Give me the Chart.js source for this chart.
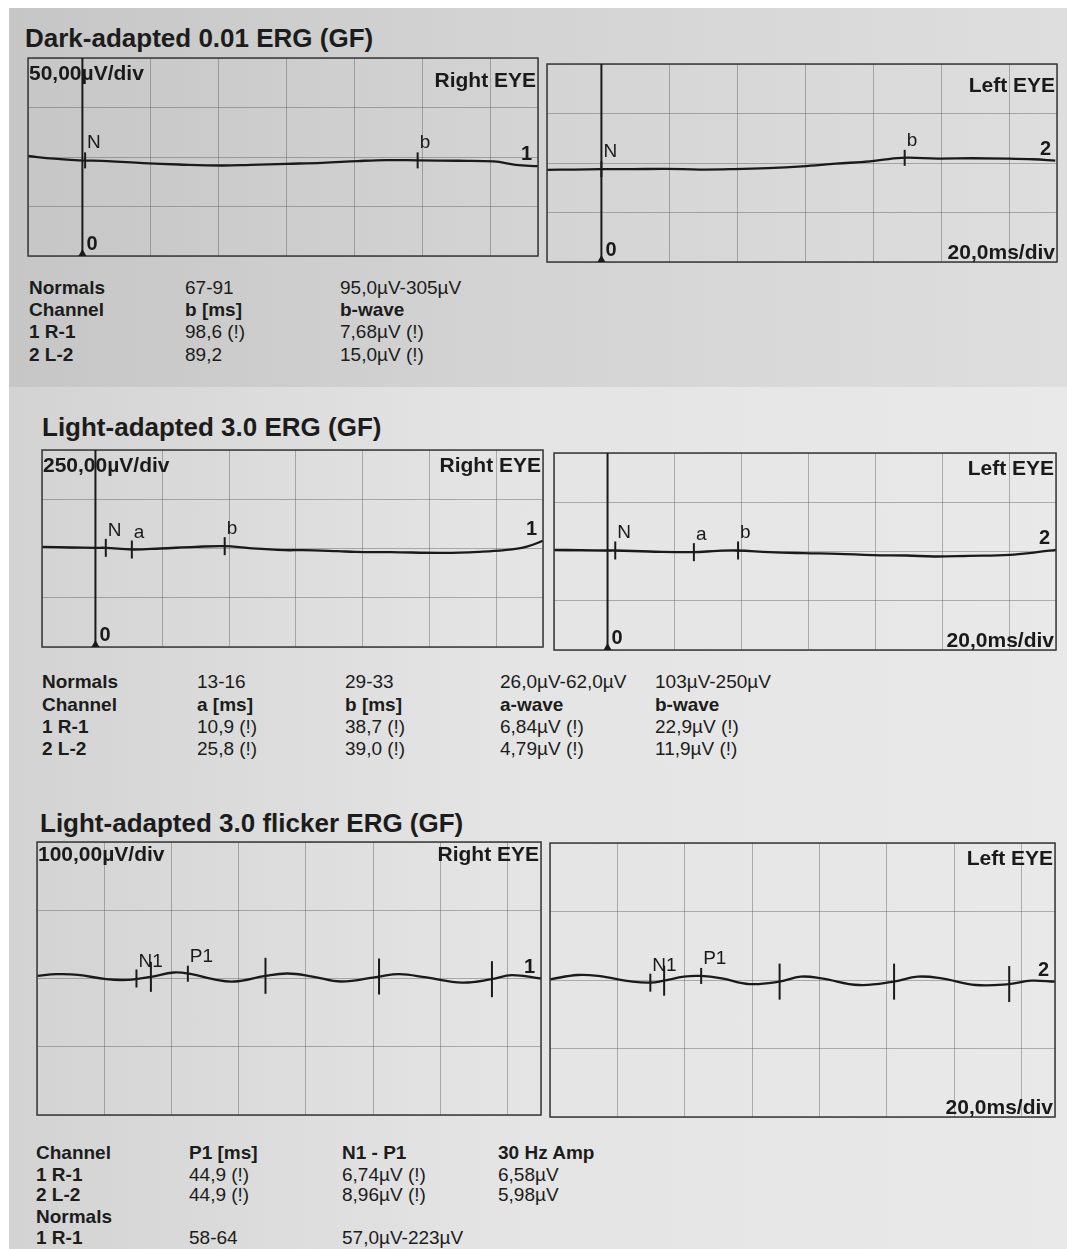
<!DOCTYPE html>
<html>
<head>
<meta charset="utf-8">
<script src="https://cdn.jsdelivr.net/npm/chart.js@4.4.1/dist/chart.umd.min.js"></script>
<style>
  body { margin: 0; width: 1067px; height: 1249px; position: relative; overflow: hidden;
         background: #fff; font-family: "Liberation Sans", Arial, sans-serif; color: #1c1c1c; }
  #paper { position: absolute; left: 9px; top: 8px; right: 0; bottom: 0;
           background: linear-gradient(90deg, #d3d3d3 0%, #e4e4e4 45%, #e9e9e9 100%); }
  #band  { position: absolute; left: 9px; top: 8px; width: 1058px; height: 379px;
           background: linear-gradient(90deg, #c6c6c6 0%, #d3d3d3 45%, #dedede 100%); }
  .title { position: absolute; font-weight: bold; font-size: 26px; line-height: 28px; white-space: nowrap; }
  .cell  { position: absolute; font-size: 19px; line-height: 20px; white-space: nowrap; }
  .cell.b { font-weight: bold; }
  .panel { position: absolute; }
</style>
</head>
<body>
<div id="paper"></div>
<div id="band"></div>

<div class="title" style="left:25px;top:24px">Dark-adapted 0.01 ERG (GF)</div>
<div class="title" style="left:42px;top:413px">Light-adapted 3.0 ERG (GF)</div>
<div class="title" style="left:40px;top:809px">Light-adapted 3.0 flicker ERG (GF)</div>

<div class="panel" id="w1"><canvas id="p1"></canvas></div>
<div class="panel" id="w2"><canvas id="p2"></canvas></div>
<div class="panel" id="w3"><canvas id="p3"></canvas></div>
<div class="panel" id="w4"><canvas id="p4"></canvas></div>
<div class="panel" id="w5"><canvas id="p5"></canvas></div>
<div class="panel" id="w6"><canvas id="p6"></canvas></div>

<script>
"use strict";

const INK = "#1a1a1a";
const FONT = "'Liberation Sans', Arial, sans-serif";

// time windows (ms)
const X_STIM = [-16, 134];
const X_FLICK = [0, 150];

// ── Dark-adapted 0.01, right eye (ms / µV) ──
const darkR_t = [-16, -8.4, -1.1, 7.4, 17.9, 28.4, 41.1, 49.5, 60, 70.5, 81, 89.5, 98.9, 110.5, 121, 127.4, 134];
const darkR_v = [1.0, -1.7, -3.4, -4.1, -6.2, -7.6, -8.6, -7.9, -6.9, -5.9, -4.1, -3.1, -3.4, -3.8, -4.5, -7.9, -9.3];
const darkR_mt = [0.8, 98.6];
const darkR_mv = [-3.4, -3.4];
const darkR_ml = ["N", "b"];

// ── Dark-adapted 0.01, left eye ──
const darkL_t = [-16, -8, 0, 9, 19, 29, 39, 49, 59, 69, 79, 88.3, 99, 109, 119, 127, 133.5];
const darkL_v = [-6.9, -6.6, -6.2, -6.2, -5.9, -6.6, -6.2, -5.2, -3.4, -0.7, 1.7, 5.2, 4.5, 4.8, 4.5, 3.8, 2.4];
const darkL_mt = [0, 89.2];
const darkL_mv = [-6.2, 5.2];
const darkL_ml = ["N", "b"];

// ── Light-adapted 3.0, right eye ──
const lightR_t = [-16, -7.2, 0, 3.1, 11.1, 19.4, 30, 38.8, 46, 56.6, 61.9, 72.5, 77.9, 88.5, 104.5, 115, 122.5, 128.9, 134];
const lightR_v = [8.5, 5.1, 3.4, 3.4, -5.1, 0, 8.5, 11.9, 1.7, -8.5, -8.5, -13.6, -17, -18.7, -22.1, -17, -8.5, 8.5, 39];
const lightR_mt = [3.1, 10.9, 38.7];
const lightR_mv = [3.4, -5.1, 11.9];
const lightR_ml = ["N", "a", "b"];

// ── Light-adapted 3.0, left eye ──
const lightL_t = [-16, -8, 0, 2.3, 12.5, 25.5, 33, 38.7, 48.4, 58.7, 68.9, 79.2, 89.4, 97.6, 107.9, 120.2, 128.4, 134];
const lightL_v = [8.4, 6.8, 5.1, 5.1, 0, -3.4, 3.4, 5.1, -3.4, -8.4, -11.8, -18.6, -20.3, -25.3, -22, -16.9, -3.4, 8.4];
const lightL_mt = [2.3, 25.8, 39.0];
const lightL_mv = [5.1, -3.4, 5.1];
const lightL_ml = ["N", "a", "b"];

// ── 30 Hz flicker, right eye ──
const flickR_t = [0, 5.8, 12.2, 20.6, 27, 33.9, 40.7, 46, 52.4, 58.7, 68, 74.6, 82, 90.5, 101.8, 107.9, 115.9, 126.5, 135.4, 141.3, 150];
const flickR_v = [3.9, 6.3, 5.4, -1, -2, 2.4, 8.8, 6.3, -1, -4.4, 3.9, 7.3, 2.9, -4.4, 2.9, 6.3, 1.5, -5.9, -1, 4.9, 0];
const flickR_mt = [29.6, 33.9, 44.9, 68, 101.8, 135.4];
const flickR_mv = [0, 2.4, 7, 3.9, 2.9, -1];
const flickR_ml = ["N1", "", "P1", "", "", ""];

// ── 30 Hz flicker, left eye ──
const flickL_t = [0, 8.2, 14.3, 24.5, 29.8, 33.9, 39.8, 44.7, 51, 59.2, 68.2, 74.5, 80.6, 91.8, 102.2, 109.2, 116.3, 126.5, 136.4, 142.9, 150];
const flickL_v = [1.0, 7.3, 5.9, -2.4, -3.9, -1, 4.9, 5.9, 2.4, -5.9, -2.4, 4.9, 2.4, -7.3, -2.4, 4.9, 2.4, -7.3, -5.9, -1, -2.5];
const flickL_mt = [29.8, 33.9, 44.9, 68.2, 102.2, 136.4];
const flickL_mv = [-3.9, -1, 5.9, -2.4, -2.4, -5.9];
const flickL_ml = ["N1", "", "P1", "", "", ""];

// tables
const dark01Table = [
  ["Normals", "67-91", "95,0µV-305µV"],
  ["Channel", "b [ms]", "b-wave"],
  ["1 R-1", "98,6 (!)", "7,68µV (!)"],
  ["2 L-2", "89,2", "15,0µV (!)"]
];
const light30Table = [
  ["Normals", "13-16", "29-33", "26,0µV-62,0µV", "103µV-250µV"],
  ["Channel", "a [ms]", "b [ms]", "a-wave", "b-wave"],
  ["1 R-1", "10,9 (!)", "38,7 (!)", "6,84µV (!)", "22,9µV (!)"],
  ["2 L-2", "25,8 (!)", "39,0 (!)", "4,79µV (!)", "11,9µV (!)"]
];
const flickerTable = [
  ["Channel", "P1 [ms]", "N1 - P1", "30 Hz Amp"],
  ["1 R-1", "44,9 (!)", "6,74µV (!)", "6,58µV"],
  ["2 L-2", "44,9 (!)", "8,96µV (!)", "5,98µV"],
  ["Normals", "", "", ""],
  ["1 R-1", "58-64", "57,0µV-223µV", ""]
];

function buildTable(rows, colX, rowY, headRow) {
  rows.forEach((r, i) => r.forEach((txt, j) => {
    if (!txt) return;
    const d = document.createElement("div");
    d.className = "cell" + (j === 0 || i === headRow ? " b" : "");
    d.style.left = colX[j] + "px";
    d.style.top = (rowY[i] - 10) + "px";
    d.textContent = txt;
    document.body.appendChild(d);
  }));
}

buildTable(dark01Table, [29, 185, 340], [288, 310, 332, 355], 1);
buildTable(light30Table, [42, 197, 345, 500, 655], [682, 705, 727, 749], 1);
buildTable(flickerTable, [36, 189, 342, 498], [1153, 1175, 1195, 1217, 1238], 0);

// panel decorations: frame, stimulus line, captions, marker labels
const ergDeco = {
  id: "ergDeco",
  afterDatasetsDraw(chart, args, o) {
    const { ctx, chartArea: a, scales: { x, y } } = chart;
    ctx.save();
    ctx.strokeStyle = "#3a3a3a";
    ctx.lineWidth = 1.5;
    ctx.strokeRect(a.left, a.top, a.right - a.left, a.bottom - a.top);

    ctx.fillStyle = INK;
    ctx.textBaseline = "alphabetic";
    if (o.stim) {
      const sx = x.getPixelForValue(0);
      ctx.strokeStyle = INK;
      ctx.lineWidth = 2;
      ctx.beginPath(); ctx.moveTo(sx, a.top); ctx.lineTo(sx, a.bottom); ctx.stroke();
      ctx.beginPath();
      ctx.moveTo(sx - 4, a.bottom); ctx.lineTo(sx + 4, a.bottom); ctx.lineTo(sx, a.bottom - 7);
      ctx.closePath(); ctx.fill();
      ctx.font = "bold 20px " + FONT;
      ctx.textAlign = "left";
      ctx.fillText("0", sx + 4, a.bottom - 6);
    }

    ctx.font = "bold 21px " + FONT;
    if (o.scaleText) { ctx.textAlign = "left"; ctx.fillText(o.scaleText, a.left + 1, a.top + 22 + o.capDy); }
    ctx.textAlign = "right";
    ctx.fillText(o.eye, a.right - 2, a.top + 24 + o.eyeDy);
    if (o.timeText) ctx.fillText(o.timeText, a.right - 2, a.bottom - 3);

    // marker labels
    ctx.font = "19px " + FONT;
    ctx.textAlign = "left";
    const marks = chart.data.datasets[1].data;
    marks.forEach((m, i) => {
      if (!o.labels[i]) return;
      ctx.fillText(o.labels[i], x.getPixelForValue(m.x) + 2, y.getPixelForValue(m.y) - 12);
    });

    // channel number at the end of the trace
    const tr = chart.data.datasets[0].data;
    const last = tr[tr.length - 1];
    ctx.font = "bold 20px " + FONT;
    ctx.textAlign = "right";
    ctx.fillText(o.channel, a.right - 6, Math.min(y.getPixelForValue(last.y) - 6, a.bottom));
    ctx.restore();
  }
};

function xy(t, v) { return t.map((tt, i) => ({ x: tt, y: v[i] })); }

function makePanel(p) {
  const pad = 3;
  const w = document.getElementById(p.wrap);
  w.style.left = (p.box[0] - pad) + "px";
  w.style.top = (p.box[1] - pad) + "px";
  w.style.width = (p.box[2] - p.box[0] + 2 * pad) + "px";
  w.style.height = (p.box[3] - p.box[1] + 2 * pad) + "px";

  const grid = { color: "rgba(80,80,80,0.4)", lineWidth: 1, drawTicks: false };
  return new Chart(document.getElementById(p.id), {
    type: "line",
    data: {
      datasets: [
        {
          data: xy(p.t, p.v),
          borderColor: INK,
          borderWidth: 2.3,
          pointRadius: 0,
          tension: 0.4,
          fill: false
        },
        {
          data: xy(p.mt, p.mv),
          showLine: false,
          pointStyle: "line",
          rotation: 90,
          pointRadius: p.mr,
          borderColor: INK,
          borderWidth: 2,
          clip: false
        }
      ]
    },
    options: {
      responsive: true,
      maintainAspectRatio: false,
      animation: false,
      events: [],
      layout: { padding: pad, autoPadding: false },
      plugins: {
        legend: { display: false },
        tooltip: { enabled: false },
        ergDeco: {
          stim: p.stim, scaleText: p.scaleText, eye: p.eye, capDy: p.capDy, eyeDy: p.eyeDy,
          timeText: p.timeText, labels: p.ml, channel: p.channel
        }
      },
      scales: {
        x: {
          type: "linear", min: p.range[0], max: p.range[1],
          ticks: { display: false, stepSize: 20 },
          grid: grid, border: { display: false }
        },
        y: {
          min: -2 * p.div, max: 2 * p.div,
          ticks: { display: false, stepSize: p.div },
          grid: grid, border: { display: false }
        }
      }
    },
    plugins: [ergDeco]
  });
}

const panels = [
  { id: "p1", wrap: "w1", box: [28, 58, 538, 256], t: darkR_t, v: darkR_v, mt: darkR_mt, mv: darkR_mv, ml: darkR_ml,
    mr: [8, 8], range: X_STIM, div: 50, stim: true, scaleText: "50,00µV/div", eye: "Right EYE", capDy: 0, eyeDy: 5,
    timeText: "", channel: "1" },
  { id: "p2", wrap: "w2", box: [547, 64, 1057, 262], t: darkL_t, v: darkL_v, mt: darkL_mt, mv: darkL_mv, ml: darkL_ml,
    mr: [8, 8], range: X_STIM, div: 50, stim: true, scaleText: "", eye: "Left EYE", capDy: 0, eyeDy: 4,
    timeText: "20,0ms/div", channel: "2" },
  { id: "p3", wrap: "w3", box: [42, 450, 543, 647], t: lightR_t, v: lightR_v, mt: lightR_mt, mv: lightR_mv, ml: lightR_ml,
    mr: [9, 9, 9], range: X_STIM, div: 250, stim: true, scaleText: "250,00µV/div", eye: "Right EYE", capDy: 0, eyeDy: -2,
    timeText: "", channel: "1" },
  { id: "p4", wrap: "w4", box: [554, 453, 1056, 650], t: lightL_t, v: lightL_v, mt: lightL_mt, mv: lightL_mv, ml: lightL_ml,
    mr: [9, 9, 9], range: X_STIM, div: 250, stim: true, scaleText: "", eye: "Left EYE", capDy: 0, eyeDy: -2,
    timeText: "20,0ms/div", channel: "2" },
  { id: "p5", wrap: "w5", box: [37, 842, 541, 1115], t: flickR_t, v: flickR_v, mt: flickR_mt, mv: flickR_mv, ml: flickR_ml,
    mr: [9, 15, 8, 18, 18, 18], range: X_FLICK, div: 100, stim: false, scaleText: "100,00µV/div", eye: "Right EYE",
    capDy: -3, eyeDy: -5, timeText: "", channel: "1" },
  { id: "p6", wrap: "w6", box: [550, 843, 1055, 1117], t: flickL_t, v: flickL_v, mt: flickL_mt, mv: flickL_mv, ml: flickL_ml,
    mr: [9, 15, 8, 18, 18, 18], range: X_FLICK, div: 100, stim: false, scaleText: "", eye: "Left EYE",
    capDy: 0, eyeDy: -2, timeText: "20,0ms/div", channel: "2" }
];

panels.forEach(makePanel);
</script>
</body>
</html>
